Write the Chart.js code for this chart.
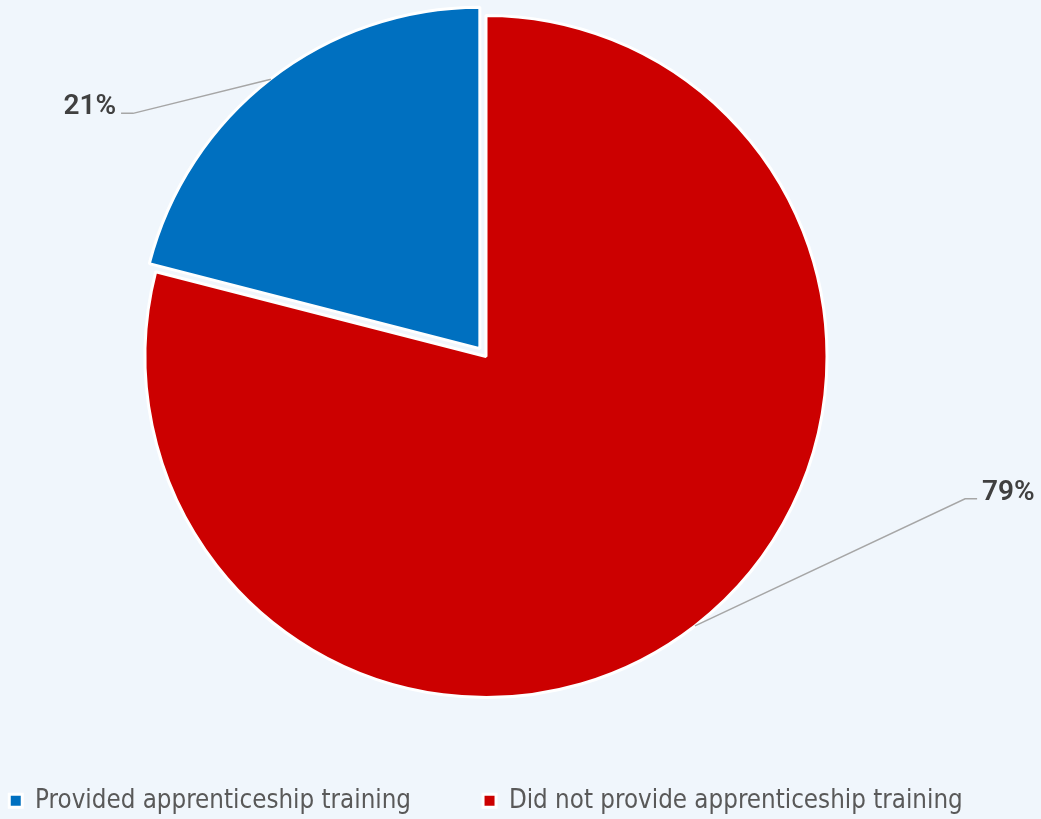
<!DOCTYPE html>
<html>
<head>
<meta charset="utf-8">
<title>Apprenticeship training</title>
<script src="https://cdn.jsdelivr.net/npm/chart.js@4.4.1/dist/chart.umd.min.js"></script>
<style>
  html, body { margin: 0; padding: 0; background: #f0f6fc; }
  #wrap { width: 1041px; height: 819px; position: relative; }
</style>
</head>
<body>
<div id="wrap"><canvas id="pie"></canvas></div>
<script>
// Share of firms, in percent
const categories = ['Provided apprenticeship training', 'Did not provide apprenticeship training'];
const shares = [21, 79];
const sliceColors = ['#0070c0', '#cc0000'];

const total = shares.reduce((a, b) => a + b, 0);
const pctLabels = shares.map(v => Math.round(v / total * 100) + '%');

// Paints the page colour behind the chart
const backdrop = {
  id: 'backdrop',
  beforeDraw(chart, args, opts) {
    const { ctx, width, height } = chart;
    ctx.save();
    ctx.fillStyle = opts.color;
    ctx.fillRect(0, 0, width, height);
    ctx.restore();
  }
};

// Pins the box the pie is centred in (the wide legend keeps its own width)
const pieArea = {
  id: 'pieArea',
  afterLayout(chart, args, opts) {
    const a = chart.chartArea;
    a.left = opts.left;
    a.right = opts.right;
    a.top = opts.top;
    a.bottom = opts.bottom;
    a.width = a.right - a.left;
    a.height = a.bottom - a.top;
  }
};

// Percent labels joined to their slices by elbow leader lines
const leaderLabels = {
  id: 'leaderLabels',
  afterDatasetsDraw(chart, args, opts) {
    const meta = chart.getDatasetMeta(0);
    const ctx = chart.ctx;
    ctx.save();
    meta.data.forEach((arc, i) => {
      const p = arc.getProps(['x', 'y', 'startAngle', 'endAngle', 'outerRadius'], true);
      const mid = (p.startAngle + p.endAngle) / 2;
      const shift = (arc.options.offset || 0) / 4;
      const ax = p.x + Math.cos(mid) * (p.outerRadius + shift);
      const ay = p.y + Math.sin(mid) * (p.outerRadius + shift);
      const place = opts.places[i];
      const ex = p.x + place.dx * p.outerRadius;
      const ey = p.y + place.dy * p.outerRadius;
      const hx = ex + place.side * opts.hook;

      ctx.beginPath();
      ctx.moveTo(ax, ay);
      ctx.lineTo(ex, ey);
      ctx.lineTo(hx, ey);
      ctx.strokeStyle = opts.lineColor;
      ctx.lineWidth = opts.lineWidth;
      ctx.stroke();

      ctx.font = opts.font;
      ctx.fillStyle = opts.color;
      ctx.textBaseline = 'alphabetic';
      ctx.textAlign = place.side < 0 ? 'right' : 'left';
      ctx.fillText(pctLabels[i], hx + place.side * opts.gap, ey + 1);
    });
    ctx.restore();
  }
};

new Chart(document.getElementById('pie'), {
  type: 'pie',
  data: {
    labels: categories,
    datasets: [{
      data: shares,
      backgroundColor: sliceColors,
      borderColor: '#ffffff',
      borderWidth: 3,
      offset: [40, 0]
    }]
  },
  options: {
    responsive: true,
    maintainAspectRatio: false,
    animation: false,
    radius: 341,
    rotation: -360 * shares[0] / total,
    layout: { padding: { left: -120, right: -51, top: 0, bottom: 0 } },
    plugins: {
      tooltip: { enabled: false },
      backdrop: { color: '#f0f6fc' },
      pieArea: { left: 0, right: 972, top: 0, bottom: 713 },
      leaderLabels: {
        places: [
          { dx: -1.035, dy: -0.713, side: -1 },
          { dx: 1.405, dy: 0.417, side: 1 }
        ],
        hook: 12,
        gap: 5,
        lineColor: '#a6a6a6',
        lineWidth: 1.5,
        font: '600 28px Roboto, "Liberation Sans", sans-serif',
        color: '#404040'
      },
      legend: {
        position: 'bottom',
        maxHeight: 103,
        labels: {
          boxWidth: 13,
          boxHeight: 13,
          padding: 72,
          color: '#595959',
          font: { family: '"Liberation Sans Narrow", "DejaVu Sans Condensed", sans-serif', size: 25.7 }
        }
      }
    }
  },
  plugins: [backdrop, pieArea, leaderLabels]
});
</script>
</body>
</html>
